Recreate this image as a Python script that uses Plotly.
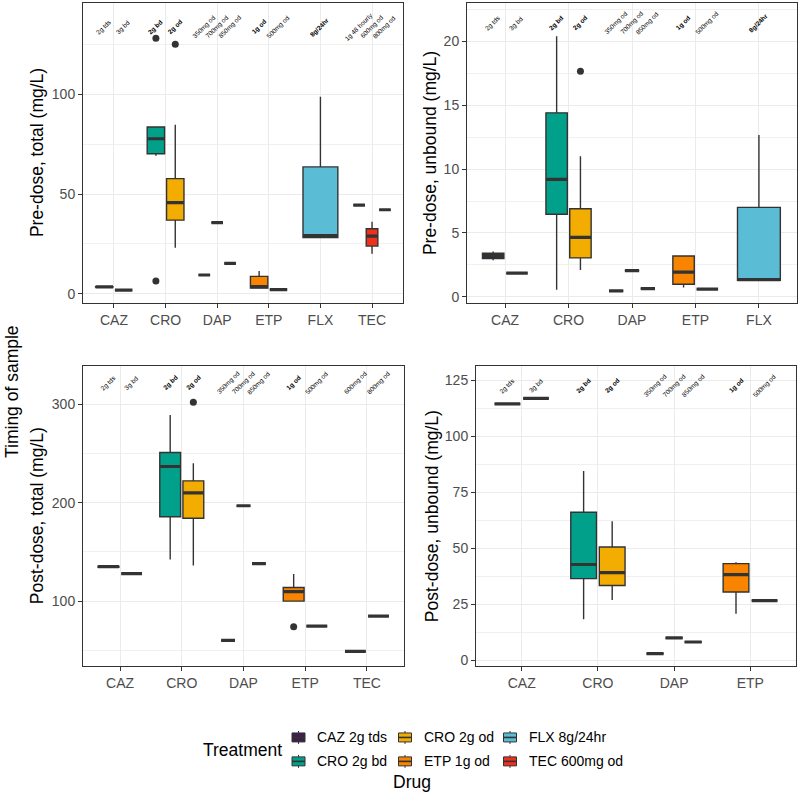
import plotly.graph_objects as go

W, H = 800, 796

# ---------------- DATA ----------------
# Top-left: Pre-dose, total (mg/L)
TL_CATS = ["CAZ", "CRO", "DAP", "ETP", "FLX", "TEC"]
TL_DRUG = ["CAZ", "CAZ", "CRO", "CRO", "DAP", "DAP", "DAP", "ETP", "ETP", "FLX", "TEC", "TEC", "TEC"]
TL_DOSE = ["2g tds", "3g bd", "2g bd", "2g od", "350mg od", "700mg od", "850mg od", "1g od", "500mg od",
           "8g/24hr", "1g 48 hourly", "600mg od", "800mg od"]
TL_LOW = [3.1, 1.8, 69.2, 23.1, 9.4, 35.7, 15.2, 2.9, 2.1, 28.2, 44.4, 20.1, 42.1]
TL_Q1 = [3.3, 1.8, 70.2, 36.9, 9.4, 35.7, 15.2, 2.9, 2.1, 28.2, 44.4, 23.9, 42.1]
TL_MED = [3.4, 1.8, 77.7, 45.7, 9.4, 35.7, 15.2, 3.6, 2.1, 29.2, 44.4, 28.9, 42.1]
TL_Q3 = [3.5, 1.8, 83.6, 57.7, 9.4, 35.7, 15.2, 8.7, 2.1, 63.6, 44.4, 32.6, 42.1]
TL_HIGH = [3.6, 1.8, 84.0, 84.7, 9.4, 35.7, 15.2, 11.4, 2.1, 98.7, 44.4, 36.1, 42.1]
TL_OUT_DRUG = ["CRO", "CRO", "CRO"]
TL_OUT_DOSE = ["2g bd", "2g bd", "2g od"]
TL_OUT_VAL = [128.1, 6.4, 125.1]

# Top-right: Pre-dose, unbound (mg/L)
TR_CATS = ["CAZ", "CRO", "DAP", "ETP", "FLX"]
TR_DRUG = ["CAZ", "CAZ", "CRO", "CRO", "DAP", "DAP", "DAP", "ETP", "ETP", "FLX"]
TR_DOSE = ["2g tds", "3g bd", "2g bd", "2g od", "350mg od", "700mg od", "850mg od", "1g od", "500mg od", "8g/24hr"]
TR_LOW = [2.87, 1.85, 0.55, 2.1, 0.47, 2.05, 0.65, 0.73, 0.6, 1.3]
TR_Q1 = [3.0, 1.85, 6.46, 3.05, 0.47, 2.05, 0.65, 0.99, 0.6, 1.3]
TR_MED = [3.2, 1.85, 9.2, 4.66, 0.47, 2.05, 0.65, 1.93, 0.6, 1.35]
TR_Q3 = [3.41, 1.85, 14.4, 6.9, 0.47, 2.05, 0.65, 3.2, 0.6, 7.0]
TR_HIGH = [3.54, 1.85, 20.4, 11.0, 0.47, 2.05, 0.65, 3.25, 0.6, 12.66]
TR_OUT_DRUG = ["CRO"]
TR_OUT_DOSE = ["2g od"]
TR_OUT_VAL = [17.66]

# Bottom-left: Post-dose, total (mg/L)
BL_CATS = ["CAZ", "CRO", "DAP", "ETP", "TEC"]
BL_DRUG = ["CAZ", "CAZ", "CRO", "CRO", "DAP", "DAP", "DAP", "ETP", "ETP", "TEC", "TEC"]
BL_DOSE = ["2g tds", "3g bd", "2g bd", "2g od", "350mg od", "700mg od", "850mg od", "1g od", "500mg od",
           "600mg od", "800mg od"]
BL_LOW = [133.8, 128.0, 142.2, 136.1, 60.0, 197.0, 138.1, 100.0, 74.6, 48.9, 84.8]
BL_Q1 = [134.5, 128.0, 185.8, 184.2, 60.0, 197.0, 138.1, 100.0, 74.6, 48.9, 84.8]
BL_MED = [135.1, 128.0, 236.9, 210.1, 60.0, 197.0, 138.1, 109.7, 74.6, 48.9, 84.8]
BL_Q3 = [135.6, 128.0, 251.1, 222.3, 60.0, 197.0, 138.1, 113.8, 74.6, 48.9, 84.8]
BL_HIGH = [136.4, 128.0, 289.3, 240.3, 60.0, 197.0, 138.1, 127.7, 74.6, 48.9, 84.8]
BL_OUT_DRUG = ["CRO", "ETP"]
BL_OUT_DOSE = ["2g od", "1g od"]
BL_OUT_VAL = [302.1, 73.9]

# Bottom-right: Post-dose, unbound (mg/L)
BR_CATS = ["CAZ", "CRO", "DAP", "ETP"]
BR_DRUG = ["CAZ", "CAZ", "CRO", "CRO", "DAP", "DAP", "DAP", "ETP", "ETP"]
BR_DOSE = ["2g tds", "3g bd", "2g bd", "2g od", "350mg od", "700mg od", "850mg od", "1g od", "500mg od"]
BR_LOW = [114.5, 117.0, 18.4, 27.0, 3.0, 10.0, 8.2, 20.8, 26.7]
BR_Q1 = [114.5, 117.0, 36.5, 33.4, 3.0, 10.0, 8.2, 30.5, 26.7]
BR_MED = [114.5, 117.0, 42.8, 39.2, 3.0, 10.0, 8.2, 38.3, 26.7]
BR_Q3 = [114.5, 117.0, 66.1, 50.6, 3.0, 10.0, 8.2, 43.2, 26.7]
BR_HIGH = [114.5, 117.0, 84.6, 62.1, 3.0, 10.0, 8.2, 43.8, 26.7]
BR_OUT_DRUG = []
BR_OUT_DOSE = []
BR_OUT_VAL = []

# Legend / fills
LEGEND_TREATMENTS = ["CAZ 2g tds", "CRO 2g bd", "CRO 2g od", "ETP 1g od", "FLX 8g/24hr", "TEC 600mg od"]
LEGEND_COLORS = ["#3D1E4C", "#00A08A", "#F2AD00", "#F98400", "#5BBCD6", "#F0301A"]
BOLD_TREATMENTS = ["CRO 2g bd", "CRO 2g od", "ETP 1g od", "FLX 8g/24hr"]

FILL = dict(zip(LEGEND_TREATMENTS, LEGEND_COLORS))
DARK = "#333333"
FONT = "Liberation Sans, Arial, sans-serif"


def px_x(p):
    return p / W


def px_y(p):
    return 1 - p / H


fig = go.Figure()
annotations = []
shapes = []


def add_panel(idx, cats, drug, dose, low, q1, med, q3, high, o_drug, o_dose, o_val, label_y):
    xa = "x" if idx == 1 else "x%d" % idx
    ya = "y" if idx == 1 else "y%d" % idx
    # dodge positions
    pos = {}
    wid = {}
    for ci, d in enumerate(cats):
        doses = [dose[i] for i in range(len(drug)) if drug[i] == d]
        n = len(doses)
        slot = 0.75 / n
        for j, ds in enumerate(doses):
            pos[(d, ds)] = (ci + 1) - 0.375 + slot * (j + 0.5)
            wid[(d, ds)] = slot * 0.9
    for i in range(len(drug)):
        key = (drug[i], dose[i])
        p, w = pos[key], wid[key]
        tname = drug[i] + " " + dose[i]
        fig.add_trace(go.Box(
            x=[p], q1=[q1[i]], median=[med[i]], q3=[q3[i]],
            lowerfence=[low[i]], upperfence=[high[i]],
            width=w, fillcolor=FILL.get(tname, "#FFFFFF"),
            line=dict(color=DARK, width=1.4), whiskerwidth=0,
            boxpoints=False, showlegend=False, hoverinfo="skip",
            xaxis=xa, yaxis=ya, orientation="v"))
        fig.add_trace(go.Scatter(
            x=[p - w / 2, p + w / 2], y=[med[i], med[i]], mode="lines",
            line=dict(color=DARK, width=3.2), showlegend=False, hoverinfo="skip",
            xaxis=xa, yaxis=ya))
        txt = dose[i]
        if tname in BOLD_TREATMENTS:
            txt = "<b>" + txt + "</b>"
        annotations.append(dict(
            x=p, y=label_y, xref=xa, yref=ya, text=txt, showarrow=False,
            textangle=-45, font=dict(size=6.5, color="#000000", family=FONT)))
    if o_val:
        fig.add_trace(go.Scatter(
            x=[pos[(o_drug[k], o_dose[k])] for k in range(len(o_val))], y=o_val,
            mode="markers", marker=dict(color=DARK, size=7),
            showlegend=False, hoverinfo="skip", xaxis=xa, yaxis=ya))


add_panel(1, TL_CATS, TL_DRUG, TL_DOSE, TL_LOW, TL_Q1, TL_MED, TL_Q3, TL_HIGH,
          TL_OUT_DRUG, TL_OUT_DOSE, TL_OUT_VAL, 133.5)
add_panel(2, TR_CATS, TR_DRUG, TR_DOSE, TR_LOW, TR_Q1, TR_MED, TR_Q3, TR_HIGH,
          TR_OUT_DRUG, TR_OUT_DOSE, TR_OUT_VAL, 21.4)
add_panel(3, BL_CATS, BL_DRUG, BL_DOSE, BL_LOW, BL_Q1, BL_MED, BL_Q3, BL_HIGH,
          BL_OUT_DRUG, BL_OUT_DOSE, BL_OUT_VAL, 322)
add_panel(4, BR_CATS, BR_DRUG, BR_DOSE, BR_LOW, BR_Q1, BR_MED, BR_Q3, BR_HIGH,
          BR_OUT_DRUG, BR_OUT_DOSE, BR_OUT_VAL, 122.5)

GRID = "#EBEBEB"


def xaxis_cfg(cats, x0, x1, yname):
    return dict(domain=[px_x(x0), px_x(x1)], range=[0.4, len(cats) + 0.6],
                tickvals=list(range(1, len(cats) + 1)), ticktext=cats,
                showgrid=True, gridcolor=GRID, gridwidth=1, zeroline=False,
                showline=True, mirror=True, linecolor=DARK, linewidth=1,
                ticks="outside", ticklen=4, tickcolor=DARK, tickwidth=1,
                tickfont=dict(size=14, color="#4D4D4D", family=FONT), anchor=yname)


def yaxis_cfg(y0, y1, rng, dtick, xname):
    return dict(domain=[px_y(y1), px_y(y0)], range=rng, tick0=0, dtick=dtick,
                showgrid=True, gridcolor=GRID, gridwidth=1, zeroline=False,
                minor=dict(dtick=dtick / 2, tick0=0, showgrid=True, gridcolor="#F0F0F0", gridwidth=0.6),
                showline=True, mirror=True, linecolor=DARK, linewidth=1,
                ticks="outside", ticklen=4, tickcolor=DARK, tickwidth=1,
                tickfont=dict(size=14, color="#4D4D4D", family=FONT), anchor=xname)


TOP0, TOP1 = 3, 304
BOT0, BOT1 = 367, 668

fig.update_layout(
    width=W, height=H, margin=dict(l=0, r=0, t=0, b=0),
    paper_bgcolor="white", plot_bgcolor="white", boxmode="overlay",
    font=dict(family=FONT),
    xaxis=xaxis_cfg(TL_CATS, 83, 403, "y"),
    yaxis=yaxis_cfg(TOP0, TOP1, [-4.75, 145.75], 50, "x"),
    xaxis2=xaxis_cfg(TR_CATS, 467, 797, "y2"),
    yaxis2=yaxis_cfg(TOP0, TOP1, [-0.5, 23.0], 5, "x2"),
    xaxis3=xaxis_cfg(BL_CATS, 83, 404, "y3"),
    yaxis3=yaxis_cfg(BOT0, BOT1, [33.7, 339], 100, "x3"),
    xaxis4=xaxis_cfg(BR_CATS, 476, 796, "y4"),
    yaxis4=yaxis_cfg(BOT0, BOT1, [-2.67, 131.4], 25, "x4"),
)


def paper_text(x, y, text, angle=0, size=17.5, xanchor="center"):
    annotations.append(dict(x=px_x(x), y=px_y(y), xref="paper", yref="paper", text=text,
                            showarrow=False, textangle=angle, xanchor=xanchor, yanchor="middle",
                            font=dict(size=size, color="#000000", family=FONT)))


paper_text(37, (TOP0 + TOP1) / 2, "Pre-dose, total (mg/L)", -90)
paper_text(430, (TOP0 + TOP1) / 2, "Pre-dose, unbound (mg/L)", -90)
paper_text(37, (BOT0 + BOT1) / 2, "Post-dose, total (mg/L)", -90)
paper_text(432, (BOT0 + BOT1) / 2, "Post-dose, unbound (mg/L)", -90)
paper_text(12, 393, "Timing of sample", -90)
paper_text(412, 784, "Drug")
paper_text(242, 751.5, "Treatment")

# manual legend (column-major, 2 rows)
COL_SW = [292, 398.5, 503.5]
ROW_Y = [739.3, 763.3]
for i, (t, c) in enumerate(zip(LEGEND_TREATMENTS, LEGEND_COLORS)):
    col, row = i // 2, i % 2
    sx, cy = COL_SW[col], ROW_Y[row]
    shapes.append(dict(type="rect", xref="paper", yref="paper",
                       x0=px_x(sx), x1=px_x(sx + 13), y0=px_y(cy + 4.5), y1=px_y(cy - 4.5),
                       fillcolor=c, line=dict(color=DARK, width=1)))
    shapes.append(dict(type="line", xref="paper", yref="paper",
                       x0=px_x(sx), x1=px_x(sx + 13), y0=px_y(cy), y1=px_y(cy),
                       line=dict(color=DARK, width=1.6)))
    for a, b in [(cy - 6.5, cy - 4.5), (cy + 4.5, cy + 6.5)]:
        shapes.append(dict(type="line", xref="paper", yref="paper",
                           x0=px_x(sx + 6.5), x1=px_x(sx + 6.5), y0=px_y(a), y1=px_y(b),
                           line=dict(color=DARK, width=1)))
    paper_text(sx + 23, cy, t, 0, 14, "left")

fig.update_layout(annotations=annotations, shapes=shapes)
fig.write_html("out.html")
